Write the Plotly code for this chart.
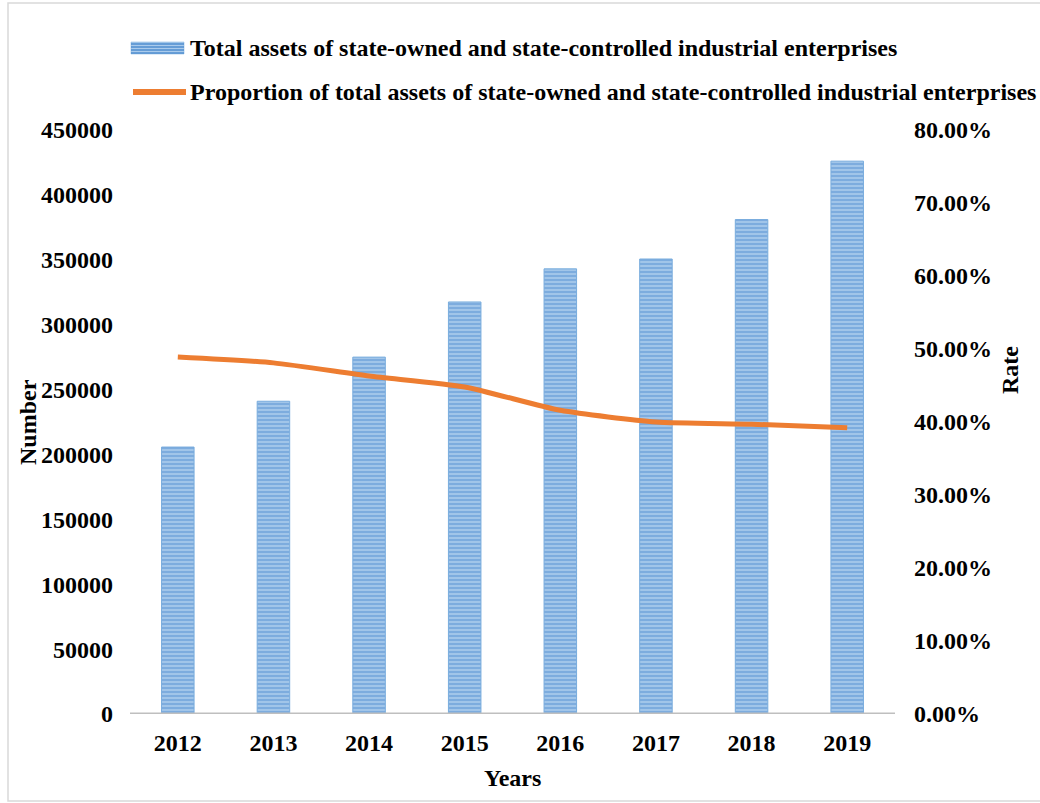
import plotly.graph_objects as go

years = ["2012", "2013", "2014", "2015", "2016", "2017", "2018", "2019"]
total_assets = [205700, 241000, 275000, 317500, 343000, 350600, 381000, 426000]
proportion = [48.9, 48.1, 46.3, 44.8, 41.6, 40.0, 39.7, 39.2]

left_ticks = [0, 50000, 100000, 150000, 200000, 250000, 300000, 350000, 400000, 450000]
right_ticks = [0, 10, 20, 30, 40, 50, 60, 70, 80]
right_labels = ["%.2f%%" % v for v in right_ticks]

bar_name = "Total assets of state-owned and state-controlled industrial enterprises"
line_name = "Proportion of total assets of state-owned and state-controlled industrial enterprises"

FONT = "Liberation Serif"
FS = 24
W, H = 1040, 803
L, R, T, B = 130, 145, 130, 89
pw, ph = W - L - R, H - T - B

def px(x):
    return (x - L) / pw

def py(y):
    return (H - B - y) / ph

fig = go.Figure()
fig.add_trace(go.Bar(
    x=years, y=total_assets, name=bar_name,
    marker=dict(color="#A0C4EA", line=dict(color="#78ACDD", width=1),
                pattern=dict(shape="-", fgcolor="#4F8ECF", bgcolor="#AACBEC",
                             size=4, solidity=0.6)),
    width=0.34,
))
fig.add_trace(go.Scatter(
    x=years, y=proportion, yaxis="y2", mode="lines", name=line_name,
    line=dict(color="#ED7D31", width=5, shape="spline", smoothing=0.6),
))

shapes = [
    dict(type="line", xref="paper", yref="y", x0=0, x1=1, y0=0, y1=0,
         line=dict(color="#BFBFBF", width=3)),
    dict(type="rect", xref="paper", yref="paper", x0=px(8), x1=px(1048),
         y0=py(801), y1=py(3), line=dict(color="#D9D9D9", width=1.5),
         fillcolor="rgba(0,0,0,0)", layer="below"),
    # legend symbols
    dict(type="rect", xref="paper", yref="paper", x0=px(131), x1=px(184),
         y0=py(54), y1=py(42), line=dict(color="#78ACDD", width=0.5),
         fillcolor="#AACBEC"),
    dict(type="line", xref="paper", yref="paper", x0=px(133), x1=px(186),
         y0=py(92), y1=py(92), line=dict(color="#ED7D31", width=6)),
]
for yy in [44, 47, 50, 53]:
    shapes.append(dict(type="line", xref="paper", yref="paper", x0=px(131), x1=px(184),
                       y0=py(yy), y1=py(yy), line=dict(color="#4F8ECF", width=1.5)))

def ann(text, x, y, xanchor="center", angle=0):
    return dict(text="<b>" + text + "</b>", xref="paper", yref="paper", x=px(x), y=py(y),
                xanchor=xanchor, yanchor="middle", textangle=angle, showarrow=False,
                font=dict(size=FS))

fig.update_layout(
    width=W, height=H,
    margin=dict(l=L, r=R, t=T, b=B),
    paper_bgcolor="white", plot_bgcolor="white",
    font=dict(family=FONT, size=FS, color="black", weight="bold"),
    showlegend=False,
    xaxis=dict(showgrid=False, showline=False, ticks="", tickfont=dict(size=FS),
               ticklabelstandoff=12),
    yaxis=dict(range=[0, 450000], tickvals=left_ticks, ticktext=[str(v) for v in left_ticks],
               showgrid=False, showline=False, zeroline=False, ticks="",
               tickfont=dict(size=FS), ticklabelstandoff=16),
    yaxis2=dict(range=[0, 80], tickvals=right_ticks, ticktext=right_labels,
                overlaying="y", side="right", showgrid=False, showline=False,
                zeroline=False, ticks="", tickfont=dict(size=FS), ticklabelstandoff=18),
    shapes=shapes,
    annotations=[
        ann(bar_name, 188, 48, xanchor="left"),
        ann(line_name, 188, 92, xanchor="left"),
        ann("Number", 28, 422, angle=-90),
        ann("Rate", 1010, 370, angle=-90),
        ann("Years", 512, 778),
    ],
)
fig.write_html("out.html")
